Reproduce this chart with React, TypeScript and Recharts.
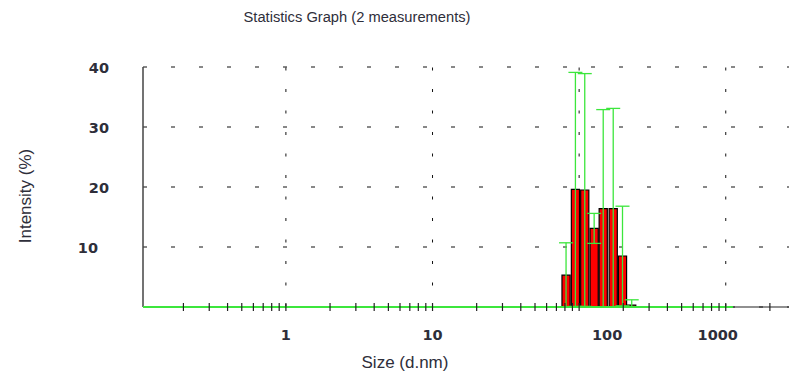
import {
  Bar,
  CartesianGrid,
  ComposedChart,
  ErrorBar,
  ReferenceLine,
  XAxis,
  YAxis,
} from "recharts";

// bin centres (d.nm) and mean intensity (%) of the 2 measurements
const sizes = [82, 95, 110, 127.5, 147, 172, 199, 230];
const intensity = [5.3, 19.6, 19.5, 13.1, 16.4, 16.4, 8.5, 0.3];
const errLow = [5.3, 19.5, 19.4, 2.5, 16.4, 16.4, 8.3, 0.3];
const errHigh = [5.4, 19.5, 19.4, 2.5, 16.5, 16.7, 8.3, 0.9];

const xTicks = [
  0.2, 0.3, 0.4, 0.5, 0.6, 0.7, 0.8, 0.9, 1, 2, 3, 4, 5, 6, 7, 8, 9, 10, 20,
  30, 40, 50, 60, 70, 80, 90, 100, 200, 300, 400, 500, 600, 700, 800, 900,
  1000, 2000,
];
const xLabels = [1, 10, 100, 1000];
const yTicks = [0, 10, 20, 30, 40];
const yLabels = [10, 20, 30, 40];
const gridSizes = [1, 10, 100, 1000];
const xDomain = [0.106, 2700];
const greenBaseline = [0.106, 1120];

const data = sizes.map((size, i) => ({
  size,
  intensity: intensity[i],
  err: [errLow[i], errHigh[i]],
}));

// the instrument software draws some labels off their ticks
const xLabelShift: Record<number, number> = { 100: 28, 1000: -8 };
const yLabelShift: Record<number, number> = { 10: -11 };

const GREEN = "#3ce63c";
const TEXT = "#2e2e3a";
const tickFont = { fontFamily: "DejaVu Sans", fontWeight: 700, fontSize: 14.5, fill: TEXT };
const labelFont = { fontFamily: "Liberation Sans", fontSize: 17, fill: TEXT };

const XTick = (props: any) => {
  const { x, y, payload } = props;
  const v = payload.value;
  return (
    <g>
      <line x1={x} x2={x} y1={y - 4} y2={y + 4} stroke="#222" strokeWidth={1.2} />
      {xLabels.includes(v) && (
        <text x={x + (xLabelShift[v] ?? 0)} y={y + 33} textAnchor="middle" {...tickFont}>
          {v}
        </text>
      )}
    </g>
  );
};

const YTick = (props: any) => {
  const { x, y, payload } = props;
  const v = payload.value;
  if (!yLabels.includes(v)) return <g />;
  return (
    <text x={x - 34 + (yLabelShift[v] ?? 0)} y={y + 5.5} textAnchor="end" {...tickFont}>
      {v}
    </text>
  );
};

export default function App() {
  return (
    <div style={{ position: "absolute", left: 0, top: 0, width: 789, height: 377, background: "#fff" }}>
      <div
        style={{
          position: "absolute",
          left: 0,
          width: 714,
          top: 9,
          textAlign: "center",
          fontFamily: "Liberation Sans",
          fontSize: 14.7,
          color: TEXT,
        }}
      >
        Statistics Graph (2 measurements)
      </div>
      <ComposedChart
        width={789}
        height={377}
        data={data}
        margin={{ top: 67, right: 0, bottom: 10, left: 0 }}
      >
        <CartesianGrid vertical={false} stroke="#111" strokeDasharray="4 24" />
        {gridSizes.map((g) => (
          <ReferenceLine key={g} x={g} stroke="#111" strokeDasharray="3 18.5" zIndex={-50} />
        ))}
        <XAxis
          dataKey="size"
          type="number"
          scale="log"
          domain={xDomain}
          allowDataOverflow
          ticks={xTicks}
          interval={0}
          tickSize={0}
          tickMargin={0}
          tick={<XTick />}
          height={60}
          axisLine={{ stroke: "#222", strokeWidth: 1.2 }}
          label={{
            value: "Size (d.nm)",
            position: "insideBottom",
            offset: -1,
            dx: -61,
            style: labelFont,
          }}
        />
        <YAxis
          type="number"
          domain={[0, 40]}
          ticks={yTicks}
          width={143}
          tickSize={0}
          tickMargin={0}
          tick={<YTick />}
          axisLine={{ stroke: "#444", strokeWidth: 1.5 }}
          label={{
            value: "Intensity (%)",
            position: "insideLeft",
            angle: -90,
            offset: 25,
            dy: 9,
            style: { ...labelFont, textAnchor: "middle" },
          }}
        />
        <ReferenceLine
          segment={[
            { x: greenBaseline[0], y: 0 },
            { x: greenBaseline[1], y: 0 },
          ]}
          stroke={GREEN}
          strokeWidth={2}
          zIndex={600}
        />
        <Bar
          dataKey="intensity"
          fill="#ff0000"
          stroke="#000"
          strokeWidth={1.2}
          barSize={9.5}
          isAnimationActive={false}
        >
          <ErrorBar dataKey="err" width={7} stroke={GREEN} strokeWidth={1.3} />
        </Bar>
      </ComposedChart>
    </div>
  );
}
